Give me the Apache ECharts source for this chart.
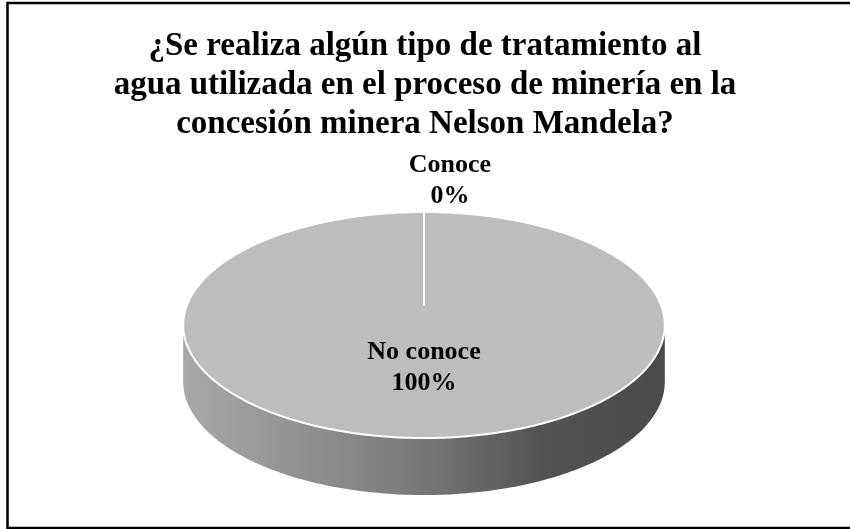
<!DOCTYPE html>
<html>
<head>
<meta charset="utf-8">
<style>
  html, body { margin: 0; padding: 0; background: #ffffff; }
  #chart { width: 850px; height: 529px; }
</style>
<script src="https://cdn.jsdelivr.net/npm/echarts@6/dist/echarts.min.js"></script>
</head>
<body>
<div id="chart"></div>
<script>
// Survey answers
const categories = ['Conoce', 'No conoce'];
const values = [0, 100];
const titleLines = [
  '¿Se realiza algún tipo de tratamiento al',
  'agua utilizada en el proceso de minería en la',
  'concesión minera Nelson Mandela?'
];

const FONT = '"Liberation Serif", "Times New Roman", serif';

// Tilted-disc geometry (simple perspective: front half appears larger)
const geo = {
  cx: 424, cy: 305,   // centre of the top face
  rx: 237, ry: 109.5, // base radii
  p: 0.177,           // perspective factor
  depth: 57           // thickness of the disc
};

function rimPoint(tDeg, dy) {
  const t = tDeg * Math.PI / 180;
  const s = 1 / (1 - geo.p * Math.sin(t));
  return [
    geo.cx + geo.rx * Math.cos(t) * s,
    geo.cy + geo.ry * Math.sin(t) * s + (dy || 0)
  ];
}

function arcPoints(a0, a1, dy) {
  const pts = [];
  const n = Math.max(2, Math.ceil(Math.abs(a1 - a0)));
  for (let i = 0; i <= n; i++) {
    pts.push(rimPoint(a0 + (a1 - a0) * i / n, dy));
  }
  return pts;
}

const total = values.reduce((a, b) => a + b, 0);
// start angle at 12 o'clock, running clockwise
const startAngles = [];
let acc = -90;
values.forEach(v => { startAngles.push(acc); acc += v / total * 360; });

// angular range of the visible front wall
const t0 = Math.asin(geo.p) * 180 / Math.PI;

const sideGradient = new echarts.graphic.LinearGradient(0, 0, 1, 0, [
  { offset: 0, color: '#a9a9a9' },
  { offset: 0.45, color: '#7d7d7d' },
  { offset: 0.75, color: '#535353' },
  { offset: 1, color: '#4a4a4a' }
]);

function renderSlice(params, api) {
  const idx = params.dataIndex;
  const v = api.value(0);
  const a0 = startAngles[idx];
  const a1 = a0 + v / total * 360;
  const children = [];

  // front wall portions that fall inside this slice
  for (let k = -1; k <= 1; k++) {
    const f0 = t0 + 360 * k, f1 = 180 - t0 + 360 * k;
    const s0 = Math.max(a0, f0), s1 = Math.min(a1, f1);
    if (s1 > s0) {
      const top = arcPoints(s0, s1, 0);
      const bottom = arcPoints(s1, s0, geo.depth);
      children.push({
        type: 'polygon',
        z2: 1,
        shape: { points: top.concat(bottom) },
        style: { fill: sideGradient, stroke: null }
      });
    }
  }

  // top face sector
  const pts = [[geo.cx, geo.cy]].concat(arcPoints(a0, a1, 0));
  children.push({
    type: 'polygon',
    z2: 10,
    shape: { points: pts },
    style: { fill: '#bdbdbd', stroke: '#ffffff', lineWidth: 2, lineJoin: 'round' }
  });

  // data label
  const pct = Math.round(v / total * 100) + '%';
  const mid = (a0 + a1) / 2;
  let lx, ly;
  if (v / total > 0.05) {
    const p = rimPoint(mid, 0);
    lx = geo.cx + (p[0] - geo.cx) * 0.47;
    ly = geo.cy + (p[1] - geo.cy) * 0.47;
  } else {
    const p = rimPoint(mid, 0);
    lx = p[0] + 26;
    ly = p[1] - 31;
  }
  children.push({
    type: 'text',
    z2: 20,
    x: lx, y: ly,
    style: {
      text: categories[idx] + '\n' + pct,
      font: 'bold 26px ' + FONT,
      lineHeight: 31,
      fill: '#000000',
      align: 'center',
      verticalAlign: 'middle'
    }
  });

  return { type: 'group', children: children };
}

const chart = echarts.init(document.getElementById('chart'), null, { renderer: 'canvas' });
chart.setOption({
  backgroundColor: '#ffffff',
  animation: false,
  title: {
    text: titleLines.join('\n'),
    left: 'center',
    top: 22,
    textStyle: {
      fontFamily: FONT,
      fontWeight: 'bold',
      fontSize: 33,
      lineHeight: 39,
      color: '#000000'
    }
  },
  graphic: [{
    type: 'rect',
    shape: { x: 7.5, y: 3, width: 845, height: 525 },
    style: { fill: null, stroke: '#000000', lineWidth: 2.5 }
  }],
  series: [{
    type: 'custom',
    coordinateSystem: 'none',
    data: values.map((v, i) => ({ name: categories[i], value: [v] })),
    renderItem: renderSlice
  }]
});
</script>
</body>
</html>
